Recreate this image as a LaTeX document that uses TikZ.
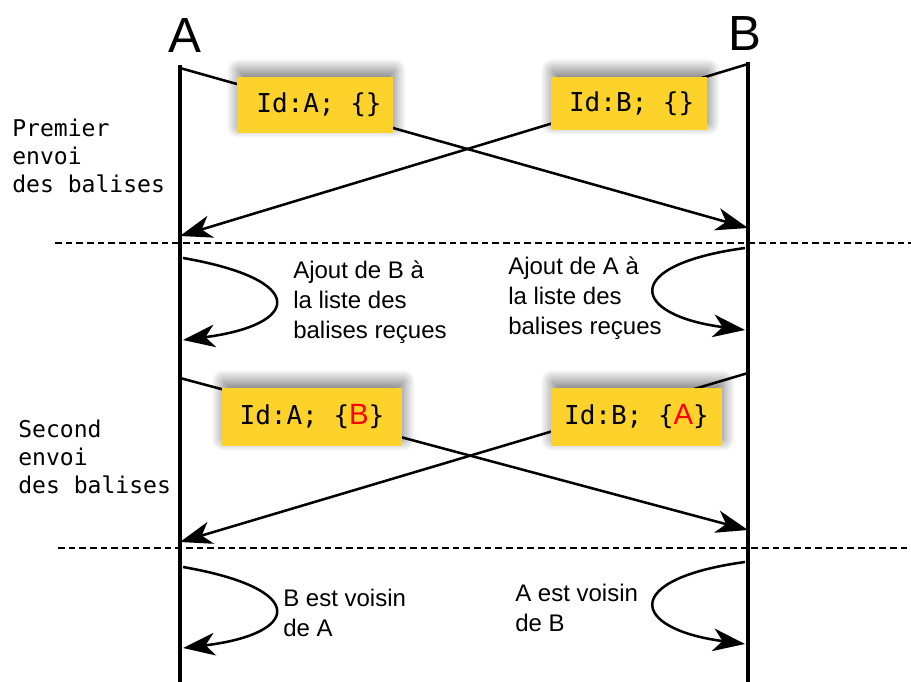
\documentclass[tikz,border=0pt]{standalone}
\usepackage{fontspec}
\setmainfont{Liberation Sans}
\setsansfont{Liberation Sans}
\setmonofont{DejaVu Sans Mono}
\usetikzlibrary{arrows.meta,shadows.blur}
\definecolor{balise}{RGB}{253,210,42}
\tikzset{
  acteur/.style={font=\fontsize{37}{40}\selectfont,anchor=base,inner sep=0pt},
  ligne/.style={line width=2.6pt},
  msg/.style={line width=1.9pt,-{Stealth[length=24pt,width=17pt,inset=7pt]}},
  sep/.style={line width=1.5pt,dash pattern=on 5pt off 3pt},
  balisebox/.style={fill=balise,font=\fontsize{19.5}{22}\selectfont\ttfamily,inner sep=0pt,
    blur shadow={shadow xshift=1pt,shadow yshift=5pt,shadow blur radius=9pt,
      shadow blur steps=40,shadow opacity=55}},
  note/.style={font=\fontsize{18}{22.5}\selectfont,align=left,anchor=north west,inner sep=0pt},
  phase/.style={font=\fontsize{17.3}{21}\selectfont\ttfamily,align=left,anchor=north west,inner sep=0pt},
}
\newcommand{\recu}[1]{{\color{red}\sffamily\fontsize{22}{22}\selectfont #1}}
\begin{document}
\begin{tikzpicture}[x=0.75pt,y=-0.75pt]
    \useasboundingbox (0,0) rectangle (911,682);

    % les deux noeuds
    \node[acteur] (A) at (185,52) {A};
    \node[acteur] (B) at (745,50) {B};
    \coordinate (Ahaut) at (180,65);
    \coordinate (Abas) at (180,682);
    \coordinate (Bhaut) at (748,62);
    \coordinate (Bbas) at (748,682);
    \draw[ligne] (Ahaut) -- (Abas);
    \draw[ligne] (Bhaut) -- (Bbas);

    % premier envoi
    \coordinate (a1) at (180,68);
    \coordinate (b1) at (748,228);
    \coordinate (b2) at (748,64);
    \coordinate (a2) at (180,236);
    \draw[msg] (a1) -- (b1);
    \draw[msg] (b2) -- (a2);
    \node[balisebox,minimum width=117pt,minimum height=42pt] (idA1) at (315,105) {\hspace{6pt}Id:A; \{\}};
    \node[balisebox,minimum width=117pt,minimum height=40pt] (idB1) at (629,103.5) {\hspace{4pt}Id:B; \{\}};
    \node[phase] (p1) at (12,119) {Premier\\envoi\\des balises};

    \coordinate (s1g) at (55,243);
    \coordinate (s1d) at (911,243);
    \draw[sep] (s1g) -- (s1d);

    % ajout a la liste
    \coordinate (r1s) at (183,258);
    \coordinate (r1e) at (183,340);
    \coordinate (r2s) at (745,248);
    \coordinate (r2e) at (745,330);
    \draw[msg] (r1s) .. controls (310,280) and (300,325) .. (r1e);
    \draw[msg] (r2s) .. controls (620,265) and (630,315) .. (r2e);
    \node[note] (n1) at (293,261) {Ajout de B à\\la liste des\\balises reçues};
    \node[note] (n2) at (508,257) {Ajout de A à\\la liste des\\balises reçues};

    % second envoi
    \coordinate (a3) at (180,378);
    \coordinate (b3) at (748,530);
    \coordinate (b4) at (748,373);
    \coordinate (a4) at (180,542);
    \draw[msg] (a3) -- (b3);
    \draw[msg] (b4) -- (a4);
    \node[balisebox,minimum width=135pt,minimum height=43.5pt] (idA2) at (312,417) {Id:A; \{\recu{B}\}};
    \node[balisebox,minimum width=128pt,minimum height=43.5pt] (idB2) at (636.5,417) {Id:B; \{\recu{A}\}};
    \node[phase] (p2) at (18,420) {Second\\envoi\\des balises};

    \coordinate (s2g) at (58,548);
    \coordinate (s2d) at (911,548);
    \draw[sep] (s2g) -- (s2d);

    % voisins
    \coordinate (v1s) at (183,567);
    \coordinate (v1e) at (183,648);
    \coordinate (v2s) at (745,562);
    \coordinate (v2e) at (745,644);
    \draw[msg] (v1s) .. controls (310,589) and (300,634) .. (v1e);
    \draw[msg] (v2s) .. controls (620,579) and (630,629) .. (v2e);
    \node[note] (n3) at (283,589) {B est voisin\\de A};
    \node[note] (n4) at (515,584) {A est voisin\\de B};

\end{tikzpicture}
\end{document}
